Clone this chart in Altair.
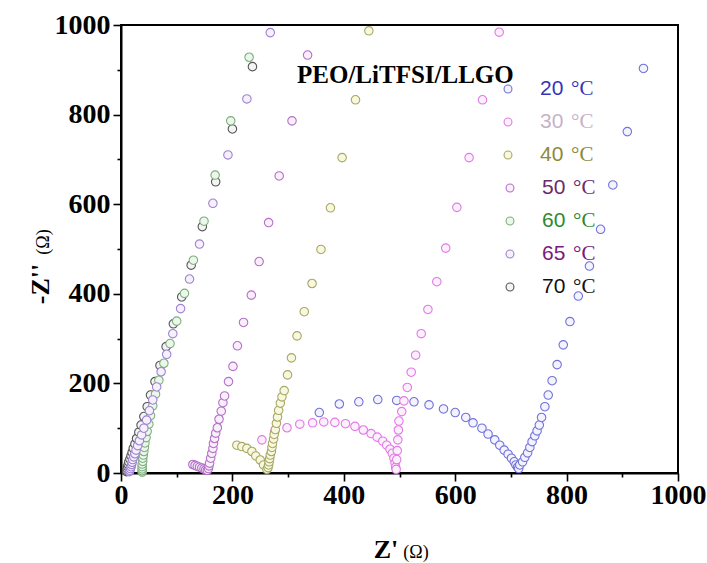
import altair as alt
import pandas as pd

# ---- data ----
series = ["20 °C", "30 °C", "40 °C", "50 °C", "60 °C", "65 °C", "70 °C"]

re_20 = [356, 392, 427, 461, 495, 526, 553, 579, 600, 619, 632, 648, 659, 671, 680, 688, 695, 701,
         706, 709, 712, 714, 716, 721, 725, 730, 734, 738, 743, 747, 751, 755, 761, 767, 774, 783,
         794, 806, 821, 841, 861, 883, 909, 938]
im_20 = [135, 154, 159, 164, 162, 159, 152, 143, 135, 124, 112, 100, 87, 74, 62, 51, 42, 33,
         25, 18, 13, 10, 18, 25, 35, 45, 57, 70, 83, 94, 107, 124, 148, 174, 206, 242,
         286, 338, 395, 462, 544, 643, 762, 903]

re_30 = [253, 276, 298, 321, 344, 364, 384, 403, 420, 435, 449, 460, 470, 477, 483, 487, 490, 492,
         493, 494, 495, 496, 497, 498, 499, 504, 508, 514, 521, 529, 539, 551, 567, 583, 603, 625,
         649, 679]
im_30 = [74, 92, 101, 109, 112, 114, 113, 110, 104, 96, 88, 80, 71, 62, 53, 44, 33, 22,
         13, 8, 30, 50, 74, 96, 116, 137, 161, 191, 225, 263, 311, 365, 427, 502, 593, 704,
         833, 984]

re_40 = [208, 217, 226, 235, 242, 250, 256, 262, 264, 265, 266, 267, 268, 270, 271, 272, 274, 275,
         277, 279, 281, 283, 286, 289, 293, 299, 306, 316, 329, 343, 359, 376, 397, 421, 445]
im_40 = [62, 59, 55, 48, 38, 29, 18, 8, 12, 18, 25, 32, 40, 48, 57, 66, 76, 86,
         97, 111, 125, 140, 156, 170, 184, 219, 257, 306, 360, 423, 499, 592, 704, 833, 987]

re_50 = [129, 133, 137, 141, 145, 149, 152, 155, 157, 158, 159, 161, 163, 165, 166, 168, 170, 173,
         176, 180, 183, 186, 193, 201, 209, 220, 234, 248, 265, 284, 307, 335]
im_50 = [19, 17, 15, 13, 11, 9, 7, 6, 10, 16, 22, 33, 44, 55, 66, 77, 89, 101,
         120, 138, 157, 172, 204, 238, 284, 336, 397, 472, 559, 663, 786, 933]

re_60 = [38, 38, 38, 38, 38, 39, 39, 40, 41, 42, 43, 45, 47, 50, 53, 57, 62, 68, 77,
         88, 100, 114, 130, 149, 169, 197, 230]
im_60 = [2, 5, 9, 14, 20, 26, 33, 40, 48, 57, 67, 79, 93, 109, 128, 150, 176, 207, 245,
         289, 339, 401, 475, 562, 665, 786, 928]

re_65 = [15, 16, 17, 18, 19, 20, 21, 23, 25, 27, 30, 33, 37, 41, 46, 51, 57, 64, 72,
         82, 93, 107, 123, 141, 165, 192, 226, 268]
im_65 = [3, 6, 10, 14, 19, 24, 30, 36, 43, 51, 61, 72, 85, 100, 118, 139, 163, 192, 226,
         265, 311, 367, 433, 511, 602, 710, 835, 983]

re_70 = [10, 10, 11, 12, 13, 14, 16, 18, 20, 22, 25, 28, 32, 36, 41, 47, 53, 61, 70,
         81, 94, 109, 126, 146, 170, 200, 236]
im_70 = [3, 6, 10, 14, 19, 25, 31, 38, 46, 55, 65, 77, 91, 107, 126, 148, 174, 204, 240,
         282, 333, 393, 464, 550, 650, 768, 907]

stroke_colors = ["#7272d8", "#e07ae6", "#a8a866", "#b470c8", "#7fae7f", "#9f82d0", "#555555"]
fill_colors = ["#f3f3ff", "#fdf0fd", "#f8f8e0", "#f8effb", "#ecf7ec", "#f5f1fb", "#f4f4f4"]
legend_text_colors = ["#3535b8", "#c8b2c8", "#8a8a3a", "#6c2a6c", "#2e8a2e", "#7a1a7a", "#111111"]
legend_numbers = ["20", "30", "40", "50", "60", "65", "70"]

# ---- build table ----
pairs = {
    "20 °C": (re_20, im_20), "30 °C": (re_30, im_30), "40 °C": (re_40, im_40),
    "50 °C": (re_50, im_50), "70 °C": (re_70, im_70), "60 °C": (re_60, im_60),
    "65 °C": (re_65, im_65),
}
rows = []
k = 0
for name, (xs, ys) in pairs.items():
    for x, y in zip(xs, ys):
        rows.append({"series": name, "zre": x, "zim": y, "order": k})
        k += 1
df = pd.DataFrame(rows)
one = pd.DataFrame({"k": [0]})

W, H = 557, 448
FONT = "Liberation Serif"

tick_cond = {"condition": {"test": "datum.value % 200 === 0", "value": 8}, "value": 4}
label_expr = "datum.value % 200 === 0 ? datum.label : ''"

def make_axis(pad):
    return alt.Axis(values=list(range(0, 1001, 100)), format="d", labelExpr=label_expr,
                    tickSize=tick_cond, grid=False, title=None, labelFont=FONT,
                    labelFontWeight="bold", labelFontSize=28, labelColor="black",
                    domainColor="black", domainWidth=2, tickColor="black", tickWidth=1.6,
                    labelPadding=pad, labelFlush=False, labelOverlap=False)

points = alt.Chart(df).mark_point(shape="circle", size=72, strokeWidth=1.1, opacity=1).encode(
    x=alt.X("zre:Q", scale=alt.Scale(domain=[0, 1000], nice=False, zero=False), axis=make_axis(0)),
    y=alt.Y("zim:Q", scale=alt.Scale(domain=[0, 1000], nice=False, zero=False), axis=make_axis(3)),
    stroke=alt.Stroke("series:N", scale=alt.Scale(domain=series, range=stroke_colors), legend=None),
    fill=alt.Fill("series:N", scale=alt.Scale(domain=series, range=fill_colors), legend=None),
    order=alt.Order("order:Q"),
)

layers = [points]

# inset title
layers.append(alt.Chart(one).mark_text(text="PEO/LiTFSI/LLGO", font=FONT, fontWeight="bold",
                                       fontSize=25, align="left", baseline="alphabetic",
                                       color="black").encode(x=alt.value(176), y=alt.value(58)))

# custom legend
for i, name in enumerate(series):
    yy = 64 + i * 33
    dx = 2 if i >= 3 else 0
    layers.append(alt.Chart(one).mark_point(shape="circle", size=62, strokeWidth=1.1, opacity=1,
                                            stroke=stroke_colors[i], fill=fill_colors[i]).encode(
        x=alt.value(387 + dx), y=alt.value(yy)))
    layers.append(alt.Chart(one).mark_text(text=legend_numbers[i], font="Liberation Sans",
                                           fontSize=21, align="left", baseline="middle",
                                           color=legend_text_colors[i]).encode(
        x=alt.value(419 + dx), y=alt.value(yy)))
    layers.append(alt.Chart(one).mark_text(text="°C", font=FONT, fontSize=21, align="left",
                                           baseline="middle", color=legend_text_colors[i]).encode(
        x=alt.value(450 + dx), y=alt.value(yy)))

# axis titles (mixed styles)
layers.append(alt.Chart(one).mark_text(text="Z'", font=FONT, fontWeight="bold", fontSize=26,
                                       align="center", baseline="alphabetic", color="black").encode(
    x=alt.value(265), y=alt.value(533)))
layers.append(alt.Chart(one).mark_text(text="(Ω)", font=FONT, fontSize=18,
                                       align="center", baseline="alphabetic", color="black").encode(
    x=alt.value(295), y=alt.value(533)))
layers.append(alt.Chart(one).mark_text(text="-Z''", font=FONT, fontWeight="bold", fontSize=26,
                                       angle=270, align="center", baseline="alphabetic",
                                       color="black").encode(x=alt.value(-72), y=alt.value(259)))
layers.append(alt.Chart(one).mark_text(text="(Ω)", font=FONT, fontSize=18, angle=270,
                                       align="center", baseline="alphabetic",
                                       color="black").encode(x=alt.value(-72), y=alt.value(217)))

chart = alt.layer(*layers).properties(
    width=W, height=H,
    autosize=alt.AutoSizeParams(type="none"),
    padding={"left": 121, "top": 25, "right": 29, "bottom": 90},
    background="white",
).configure_view(stroke="black", strokeWidth=2)

chart.save("out.html", embed_options={"renderer": "svg", "actions": False})
